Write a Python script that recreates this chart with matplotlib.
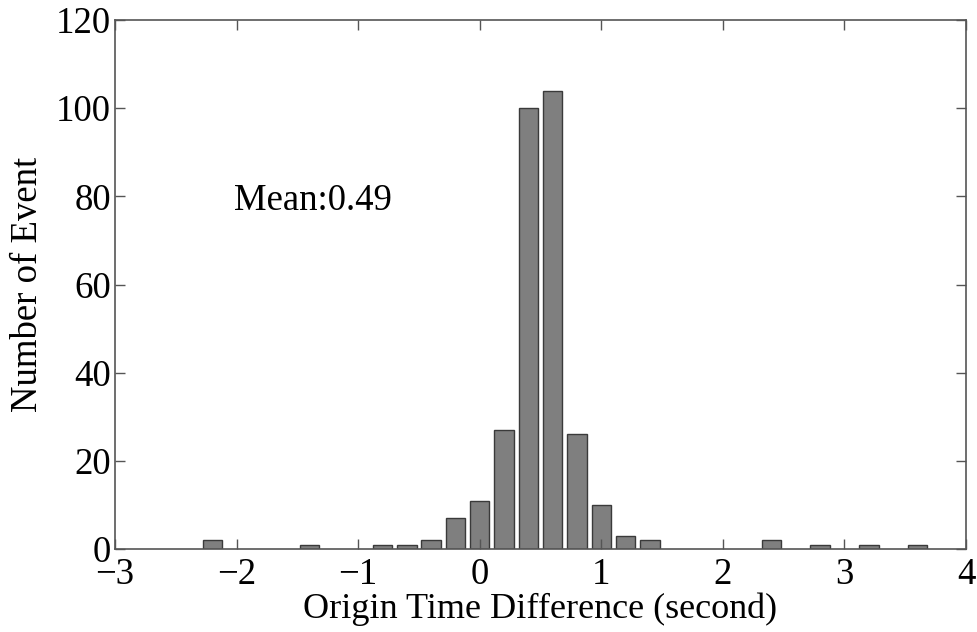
import matplotlib
matplotlib.use("Agg")
import matplotlib.pyplot as plt

# histogram bin centres (seconds) and counts
bin_centers = [-2.2, -1.4, -0.8, -0.6, -0.4, -0.2, 0.0, 0.2, 0.4, 0.6, 0.8, 1.0, 1.2, 1.4, 2.4, 2.8, 3.2, 3.6]
counts = [2, 1, 1, 1, 2, 7, 11, 27, 100, 104, 26, 10, 3, 2, 2, 1, 1, 1]
x_ticks = [-3, -2, -1, 0, 1, 2, 3, 4]
y_ticks = [0, 20, 40, 60, 80, 100, 120]
mean_label = "Mean:0.49"

plt.rcParams["font.family"] = ["Liberation Serif", "DejaVu Serif"]

fig = plt.figure(figsize=(9.78, 6.32), dpi=100)
ax = fig.add_axes([0.1176, 0.1313, 0.8702, 0.8370])

ax.bar(bin_centers, counts, width=0.16, color="#7f7f7f", edgecolor="#3a3a3a", linewidth=1.0)

ax.set_xlim(-3, 4)
ax.set_ylim(0, 120)
ax.set_xticks(x_ticks)
ax.set_xticklabels([f"{t}".replace("-", "\u2212") for t in x_ticks])
ax.set_yticks(y_ticks)

for side in ax.spines.values():
    side.set_color("#555555")
    side.set_linewidth(1.2)
ax.tick_params(direction="in", top=True, right=True, length=7, width=1.0,
               color="#555555", labelsize=26.5, pad=3)
ax.tick_params(axis="x", pad=6)

ax.set_xlabel("Origin Time Difference (second)", fontsize=26, labelpad=0.5)
ax.set_ylabel("Number of Event", fontsize=26.5, labelpad=8)
ax.text(-2.02, 79, mean_label, fontsize=26.5, va="center", ha="left")

fig.savefig("out.png", dpi=100)
